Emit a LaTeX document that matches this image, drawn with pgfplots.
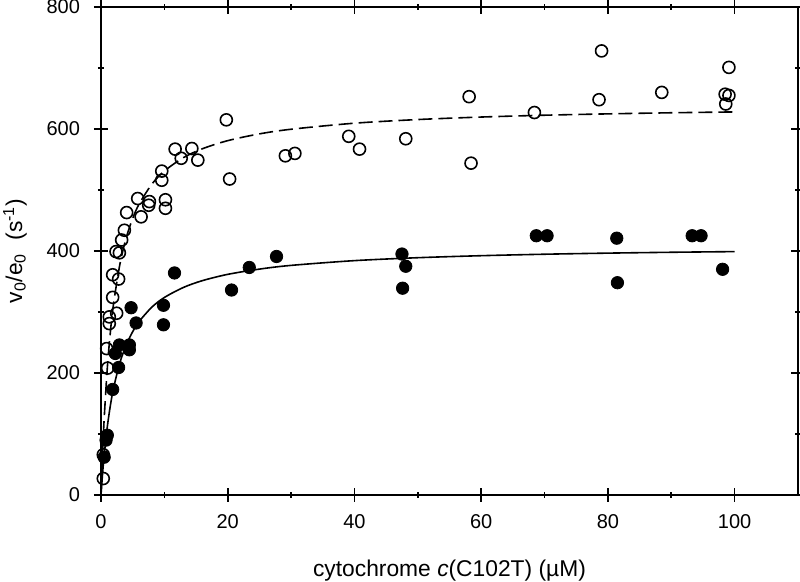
\documentclass[border=0pt]{standalone}
\usepackage{pgfplots}
\pgfplotsset{compat=1.18}
\usepackage{fontspec}
\setmainfont{Liberation Sans}
\begin{document}
\begin{tikzpicture}
\begin{axis}[name=ax, scale only axis, width=348.5pt, height=244pt,
  xmin=0, xmax=110, ymin=0, ymax=800,
  xtick={0,20,...,100}, ytick={0,200,...,800},
  minor xtick={10,30,...,90}, minor ytick={100,300,...,700},
  tick align=center, major tick length=7pt, minor tick length=3pt,
  axis line style={line width=0.9pt},
  every tick/.style={black, line width=0.8pt},
  tick label style={font=\fontsize{10}{12}\selectfont},
  xticklabel style={yshift=-2.5pt},
  yticklabel style={xshift=-3.5pt},
  /pgf/number format/assume math mode=true,
  xlabel={cytochrome \textit{c}(C102T) (µM)},
  ylabel={v\textsubscript{0}/e\textsubscript{0}\ \ (s\textsuperscript{-1})},
  label style={font=\fontsize{11.4}{13}\selectfont},
  xlabel style={at={(axis description cs:0.5,-0.168)}, anchor=base},
  ylabel style={at={(axis description cs:-0.1133,0.5)}, anchor=base},
]
% fitted curves
\addplot[black, line width=0.8pt, smooth] coordinates {
(0,0) (0.25,35.3) (0.5,65.0) (1,112.2) (1.5,148.0) (2,176.2) (3,217.5) (4,246.4)
(5,267.7) (6,284.1) (8,307.7) (10,323.8) (13,340.2) (16,351.4) (20,361.7)
(25,370.3) (30,376.4) (40,384.2) (50,389.0) (60,392.3) (70,394.7) (80,396.5)
(90,397.9) (100,399.0)};
\addplot[black, line width=0.8pt, dash pattern=on 7pt off 3pt, smooth] coordinates {
(0,0) (0.25,69.1) (0.5,124.7) (1,208.8) (1.5,269.3) (2,315.0) (3,379.3) (4,422.4)
(5,453.3) (6,476.6) (8,509.2) (10,531.1) (13,553.0) (16,567.6) (20,580.9)
(25,592.0) (30,599.6) (40,609.5) (50,615.5) (60,619.6) (70,622.6) (80,624.8)
(90,626.6) (100,628.0)};
% open circles
\addplot[only marks, mark=o, mark size=3.0pt, line width=0.8pt, black] table {
x y
0.36 27
0.36 66
1.04 208
0.89 240
1.31 281
1.31 292
2.47 298
1.84 324
2.78 354
1.84 361
2.37 399
2.90 397
3.26 418
3.69 434
4.05 463
6.33 456
5.79 486
7.64 481
7.53 475
10.17 484
10.17 470
9.59 531
9.59 516
11.70 567
12.66 552
14.34 568
15.28 549
19.78 615
20.30 518
29.10 556
30.60 560
39.10 588
40.80 567
48.10 584
58.10 653
58.40 544
68.40 627
78.60 648
79.00 728
88.50 660
99.10 701
98.50 657
99.10 655
98.60 641
};
% filled circles
\addplot[only marks, mark=*, mark size=3.1pt, black] table {
x y
0.50 62
0.80 90
1.00 98
1.84 173
2.78 209
2.26 232
2.90 246
4.48 246
4.48 238
4.75 307
5.54 282
9.86 311
9.86 279
11.60 364
20.60 336
23.40 373
27.70 391
47.50 395
48.10 375
47.60 339
68.70 425
70.40 425
81.40 421
81.50 348
93.30 425
94.70 425
98.10 370
};
\end{axis}
\pgfresetboundingbox
\path ([shift={(-50.5pt,-43.5pt)}]ax.south west) rectangle ([shift={(1pt,3.5pt)}]ax.north east);
\end{tikzpicture}
\end{document}
